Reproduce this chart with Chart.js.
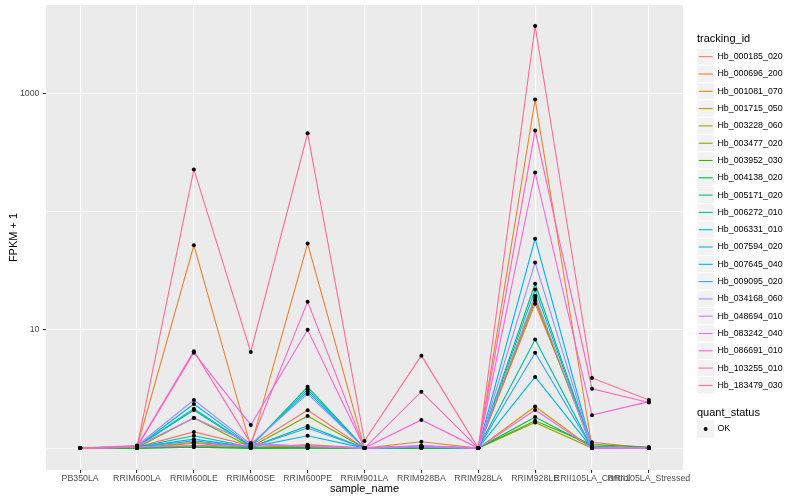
<!DOCTYPE html>
<html>
<head>
<meta charset="utf-8">
<script src="https://cdn.jsdelivr.net/npm/chart.js@4.4.1/dist/chart.umd.min.js"></script>
<style>
  html, body { margin: 0; padding: 0; background: #fff; }
</style>
</head>
<body>
<canvas id="chart" width="800" height="500"></canvas>
<script>
// sample names on the x axis
const samples = ['PB350LA', 'RRIM600LA', 'RRIM600LE', 'RRIM600SE', 'RRIM600PE', 'RRIM901LA',
  'RRIM928BA', 'RRIM928LA', 'RRIM928LE', 'RRII105LA_Control', 'RRII105LA_Stressed'];

const trackingIds = ['Hb_000185_020', 'Hb_000696_200', 'Hb_001081_070', 'Hb_001715_050', 'Hb_003228_060',
  'Hb_003477_020', 'Hb_003952_030', 'Hb_004138_020', 'Hb_005171_020', 'Hb_006272_010',
  'Hb_006331_010', 'Hb_007594_020', 'Hb_007645_040', 'Hb_009095_020', 'Hb_034168_060',
  'Hb_048694_010', 'Hb_083242_040', 'Hb_086691_010', 'Hb_103255_010', 'Hb_183479_030'];

// ggplot hue palette, 20 levels
const colors = ['#F8766D', '#EA8331', '#D89000', '#C09B00', '#A3A500', '#7CAE00', '#39B600', '#00BB4E',
  '#00BF7D', '#00C1A3', '#00BFC4', '#00BAE0', '#00B0F6', '#35A2FF', '#9590FF', '#C77CFF',
  '#E76BF3', '#FA62DB', '#FF62BC', '#FF6C91'];

// FPKM + 1, one value per sample
const hb000185 = [1, 1.02, 1.37, 1.05, 2.09, 1, 1.03, 1, 16.6, 1.12, 1.0];
const hb000696 = [1, 1.02, 51.8, 1.03, 53.6, 1, 1.13, 1, 884, 1.03, 1.0];
const hb001081 = [1, 1.0, 1.1, 1.0, 1.07, 1, 1.02, 1, 2.25, 1.0, 1.0];
const hb001715 = [1, 1.0, 1.12, 1.02, 1.03, 1, 1.0, 1, 18.6, 1.0, 1.0];
const hb003228 = [1, 1.0, 1.05, 1.0, 1.0, 1, 1.0, 1, 1.65, 1.0, 1.0];
const hb003477 = [1, 1.01, 1.8, 1.02, 1.87, 1, 1.02, 1, 17.7, 1.02, 1.0];
const hb003952 = [1, 1.0, 1.02, 1.0, 1.02, 1, 1.0, 1, 1.70, 1.07, 1.02];
const hb004138 = [1, 1.0, 1.02, 1.0, 1.0, 1, 1.0, 1, 1.83, 1.03, 1.0];
const hb005171 = [1, 1.03, 2.1, 1.03, 3.3, 1, 1.02, 1, 24.5, 1.02, 1.0];
const hb006272 = [1, 1.02, 1.27, 1.02, 1.54, 1, 1.02, 1, 8.3, 1.0, 1.0];
const hb006331 = [1, 1.03, 2.15, 1.04, 3.14, 1, 1.03, 1, 21.9, 1.02, 1.0];
const hb007594 = [1, 1.02, 1.19, 1.02, 1.27, 1, 1.02, 1, 4.0, 1.0, 1.0];
const hb007645 = [1, 1.03, 2.36, 1.05, 3.0, 1, 1.04, 1, 59, 1.02, 1.0];
const hb009095 = [1, 1.02, 1.15, 1.02, 1.48, 1, 1.02, 1, 6.4, 1.0, 1.0];
const hb034168 = [1, 1.05, 2.55, 1.08, 2.87, 1, 1.05, 1, 37, 1.02, 1.0];
const hb048694 = [1, 1.04, 1.8, 1.1, 1.03, 1, 1.04, 1, 19.4, 1.0, 1.0];
const hb083242 = [1, 1.02, 1.05, 1.06, 1.05, 1, 1.03, 1, 2.1, 1.0, 1.0];
const hb086691 = [1, 1.02, 6.4, 1.57, 10, 1, 1.73, 1, 214, 1.9, 2.47];
const hb103255 = [1, 1.03, 6.6, 1.1, 17.3, 1, 3.0, 1, 485, 3.18, 2.43];
const hb183479 = [1, 1.02, 227, 6.5, 458, 1.15, 6.05, 1, 3700, 3.92, 2.55];

const series = [hb000185, hb000696, hb001081, hb001715, hb003228, hb003477, hb003952, hb004138,
  hb005171, hb006272, hb006331, hb007594, hb007645, hb009095, hb034168, hb048694,
  hb083242, hb086691, hb103255, hb183479];

const yMajor = [10, 1000];
const yGrid = [1, 10, 100, 1000];

const FONT = "'Liberation Sans', Arial, Helvetica, sans-serif";

const lineSets = series.map((vals, i) => ({
  label: trackingIds[i],
  data: vals.map((v, j) => ({ x: j, y: v })),
  borderColor: colors[i],
  backgroundColor: colors[i],
  borderWidth: 1.1,
  pointRadius: 0,
  tension: 0,
  order: 21 - i
}));

const pointSet = {
  label: 'OK',
  data: series.flatMap(vals => vals.map((v, j) => ({ x: j, y: v }))),
  showLine: false,
  pointRadius: 2,
  pointBackgroundColor: '#000',
  pointBorderColor: '#000',
  pointBorderWidth: 0,
  order: 0
};

// grey panel behind the plot
const panelBg = {
  id: 'panelBg',
  beforeDraw(chart) {
    const a = chart.chartArea;
    const c = chart.ctx;
    c.save();
    c.fillStyle = '#EBEBEB';
    c.fillRect(a.left, a.top, a.right - a.left, a.bottom - a.top);
    c.restore();
  }
};

// ggplot style legend on the right
const sideLegend = {
  id: 'sideLegend',
  afterDraw(chart) {
    const c = chart.ctx;
    const x0 = 697, step = 17.3, y0 = 56.7;
    c.save();
    c.textBaseline = 'middle';
    c.textAlign = 'left';
    c.fillStyle = '#000';
    c.font = '11px ' + FONT;
    c.fillText('tracking_id', x0, 39);
    trackingIds.forEach((id, i) => {
      const y = y0 + i * step;
      c.fillStyle = '#F2F2F2';
      c.fillRect(x0, y - step / 2, 17.3, step);
      c.strokeStyle = '#fff';
      c.lineWidth = 1;
      c.strokeRect(x0, y - step / 2, 17.3, step);
      c.strokeStyle = colors[i];
      c.lineWidth = 1.1;
      c.beginPath();
      c.moveTo(x0 + 1.7, y);
      c.lineTo(x0 + 15.6, y);
      c.stroke();
      c.fillStyle = '#000';
      c.font = '8.8px ' + FONT;
      c.fillText(id, x0 + 20.5, y);
    });
    c.font = '11px ' + FONT;
    c.fillText('quant_status', x0, 412.5);
    const yk = 429;
    c.fillStyle = '#F2F2F2';
    c.fillRect(x0, yk - step / 2, 17.3, step);
    c.fillStyle = '#000';
    c.beginPath();
    c.arc(x0 + 8.6, yk, 2, 0, Math.PI * 2);
    c.fill();
    c.font = '8.8px ' + FONT;
    c.fillText('OK', x0 + 20.5, yk);
    c.restore();
  }
};

const chart = new Chart(document.getElementById('chart').getContext('2d'), {
  type: 'line',
  data: { datasets: [...lineSets, pointSet] },
  plugins: [panelBg, sideLegend],
  options: {
    responsive: false,
    animation: false,
    devicePixelRatio: 1,
    layout: { padding: { left: 0, right: 117, top: 5, bottom: 0 } },
    plugins: {
      legend: { display: false },
      tooltip: { enabled: false }
    },
    scales: {
      x: {
        type: 'linear',
        min: -0.6,
        max: 10.6,
        afterBuildTicks: s => { s.ticks = samples.map((n, i) => ({ value: i })); },
        afterFit: s => { s.height = 30; },
        border: { display: false },
        grid: {
          color: '#FFFFFF',
          lineWidth: 1.1,
          drawTicks: true,
          tickLength: 3,
          tickColor: '#333333'
        },
        ticks: {
          autoSkip: false,
          maxRotation: 0,
          minRotation: 0,
          padding: 0.5,
          color: '#4D4D4D',
          font: { family: FONT, size: 8.8 },
          callback: v => samples[v]
        },
        title: {
          display: true,
          text: 'sample_name',
          color: '#000',
          font: { family: FONT, size: 11 },
          padding: { top: 4, bottom: 4 }
        }
      },
      y: {
        type: 'logarithmic',
        min: 0.653,
        max: 5570,
        afterBuildTicks: s => { s.ticks = yGrid.map(v => ({ value: v })); },
        afterFit: s => { s.width = 46; s.paddingTop = 0; s.paddingBottom = 0; },
        border: { display: false },
        grid: {
          color: '#FFFFFF',
          lineWidth: c => (yMajor.includes(c.tick && c.tick.value) ? 1.1 : 0.55),
          drawTicks: true,
          tickLength: 3,
          tickColor: c => (yMajor.includes(c.tick && c.tick.value) ? '#333333' : 'rgba(0,0,0,0)')
        },
        ticks: {
          padding: 3.5,
          color: '#4D4D4D',
          font: { family: FONT, size: 8.8 },
          callback: v => (yMajor.includes(v) ? String(v) : '')
        },
        title: {
          display: true,
          text: 'FPKM + 1',
          color: '#000',
          font: { family: FONT, size: 11 },
          padding: { top: 7, bottom: 7 }
        }
      }
    }
  }
});
</script>
</body>
</html>
